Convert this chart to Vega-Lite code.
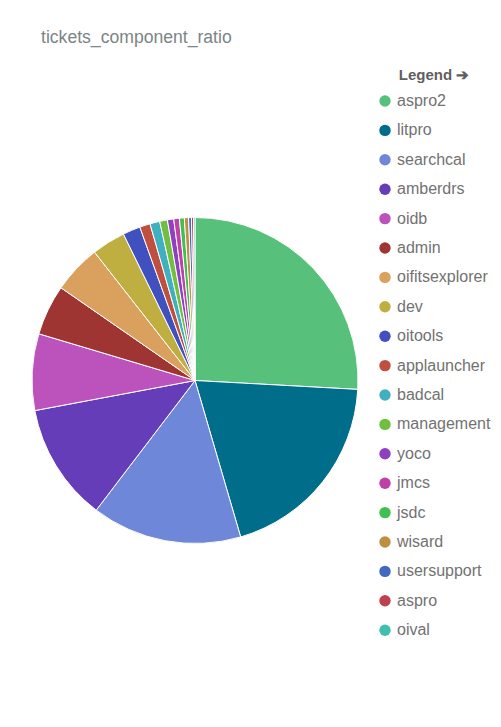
{
  "$schema": "https://vega.github.io/schema/vega-lite/v6.json",
  "autosize": {"type": "none"},
  "width": 350,
  "height": 635,
  "padding": {"left": 20, "top": 63, "right": 131, "bottom": 29},
  "background": "#ffffff",
  "title": {
    "text": "tickets_component_ratio",
    "anchor": "start",
    "dx": 21,
    "offset": 16,
    "font": "Liberation Sans",
    "fontSize": 17.6,
    "fontWeight": "normal",
    "color": "#7b8486"
  },
  "data": {
    "values": [
      {"component": "aspro2", "count": 372},
      {"component": "litpro", "count": 282},
      {"component": "searchcal", "count": 214},
      {"component": "amberdrs", "count": 168},
      {"component": "oidb", "count": 109},
      {"component": "admin", "count": 72},
      {"component": "oifitsexplorer", "count": 69},
      {"component": "dev", "count": 48},
      {"component": "oitools", "count": 25},
      {"component": "applauncher", "count": 15},
      {"component": "badcal", "count": 14},
      {"component": "management", "count": 11},
      {"component": "yoco", "count": 9},
      {"component": "jmcs", "count": 8},
      {"component": "jsdc", "count": 7},
      {"component": "wisard", "count": 6},
      {"component": "usersupport", "count": 4},
      {"component": "aspro", "count": 3},
      {"component": "oival", "count": 2}
    ]
  },
  "mark": {"type": "arc", "outerRadius": 163, "stroke": "#ffffff", "strokeWidth": 1},
  "encoding": {
    "theta": {"field": "count", "type": "quantitative", "stack": true},
    "order": {"field": "count", "type": "quantitative", "sort": "descending"},
    "color": {
      "field": "component",
      "type": "nominal",
      "scale": {
        "domain": ["aspro2", "litpro", "searchcal", "amberdrs", "oidb", "admin", "oifitsexplorer", "dev", "oitools", "applauncher", "badcal", "management", "yoco", "jmcs", "jsdc", "wisard", "usersupport", "aspro", "oival"],
        "range": ["#57c17b", "#006e8a", "#6f87d8", "#663db8", "#bc52bc", "#9e3533", "#daa05d", "#bfaf40", "#4050bf", "#bf5040", "#40afbf", "#70bf40", "#9040bf", "#bf40a7", "#40bf52", "#bf8f40", "#4069bf", "#bf404f", "#40bfb0"]
      },
      "legend": {
        "title": "Legend ➔",
        "titleFont": "Liberation Sans",
        "titleFontSize": 15,
        "titleFontWeight": "bold",
        "titleColor": "#5f5f5f",
        "titleAnchor": "middle",
        "titlePadding": 10,
        "labelFont": "Liberation Sans",
        "labelFontSize": 16,
        "labelColor": "#727272",
        "labelOffset": 4,
        "symbolType": "circle",
        "symbolSize": 130,
        "symbolStrokeWidth": 0,
        "symbolOpacity": 1,
        "rowPadding": 13.4,
        "offset": 2,
        "padding": 5,
        "labelLimit": 200
      }
    }
  },
  "config": {"view": {"stroke": null}}
}
